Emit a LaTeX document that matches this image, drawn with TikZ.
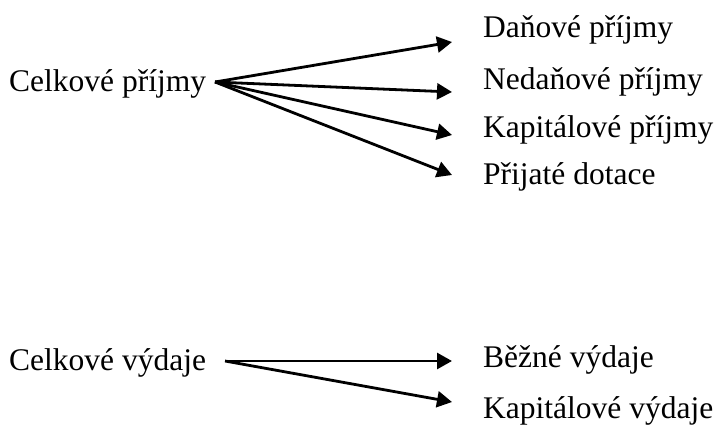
\documentclass[tikz,border=0pt]{standalone}
\usepackage{fontspec}
\setmainfont{Liberation Serif}
\usetikzlibrary{arrows.meta}
\tikzset{
  lbl/.style={anchor=base west, inner sep=0pt, font=\fontsize{31.5}{36}\selectfont},
  arr/.style={line width=2.8pt, -{Triangle[length=15pt,width=16pt]}}
}
\begin{document}
\begin{tikzpicture}[x=1pt,y=-1pt]
\useasboundingbox (0,0) rectangle (718,428);
\node[lbl] (cp) at (9,92) {Celkové příjmy};
\node[lbl] (dp) at (483,38) {Daňové příjmy};
\node[lbl] (np) at (483,89) {Nedaňové příjmy};
\node[lbl] (kp) at (483,137) {Kapitálové příjmy};
\node[lbl] (pd) at (483,184) {Přijaté dotace};
\node[lbl] (cv) at (9,370) {Celkové výdaje};
\node[lbl] (bv) at (483,367) {Běžné výdaje};
\node[lbl] (kv) at (483,418) {Kapitálové výdaje};
\coordinate (s1) at (215,82);
\coordinate (t1) at (452,42);
\coordinate (t2) at (452,92);
\coordinate (t3) at (452,135);
\coordinate (t4) at (452,175);
\coordinate (s2) at (225,361);
\coordinate (t5) at (452,361);
\coordinate (t6) at (452,402);
\draw[arr] (s1) -- (t1);
\draw[arr] (s1) -- (t2);
\draw[arr] (s1) -- (t3);
\draw[arr] (s1) -- (t4);
\draw[arr] (s2) -- (t5);
\draw[arr] (s2) -- (t6);
\end{tikzpicture}
\end{document}
